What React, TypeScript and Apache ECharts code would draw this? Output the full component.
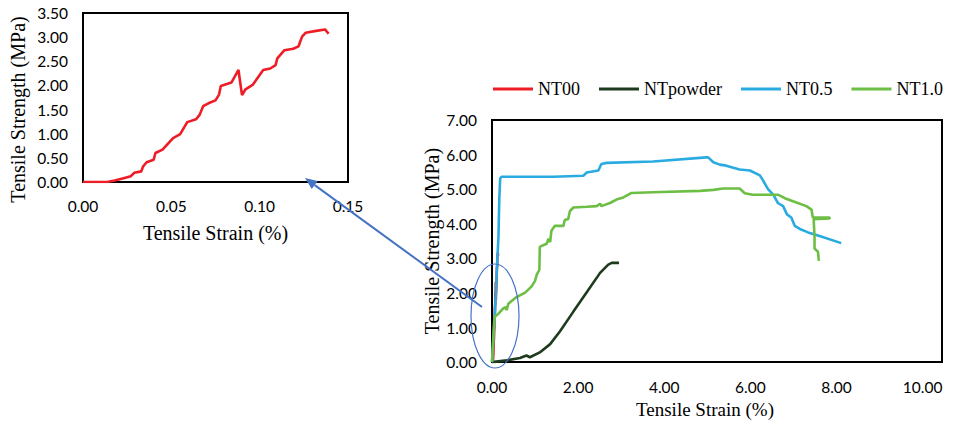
import React, { useEffect, useRef } from "react";
import * as echarts from "echarts";

// Strain (%) , tensile strength (MPa)
const nt00: [number, number][] = [
  [0, 0], [0.0136, 0], [0.018, 0.03], [0.023, 0.08], [0.027, 0.12], [0.029, 0.19],
  [0.033, 0.22], [0.034, 0.32], [0.036, 0.41], [0.040, 0.46], [0.041, 0.60],
  [0.045, 0.67], [0.051, 0.91], [0.055, 0.99], [0.059, 1.24], [0.064, 1.30],
  [0.066, 1.39], [0.068, 1.57], [0.071, 1.63], [0.075, 1.69], [0.077, 1.81],
  [0.078, 1.99], [0.084, 2.06], [0.088, 2.32], [0.090, 1.80], [0.092, 1.92],
  [0.096, 2.01], [0.102, 2.32], [0.106, 2.35], [0.109, 2.42], [0.110, 2.56],
  [0.114, 2.73], [0.119, 2.76], [0.122, 2.81], [0.124, 3.01], [0.126, 3.09],
  [0.132, 3.13], [0.137, 3.16], [0.139, 3.07],
];

const ntPowder: [number, number][] = [
  [0, 0], [0.34, 0.05], [0.65, 0.12], [0.80, 0.19], [0.88, 0.14], [1.11, 0.28],
  [1.35, 0.52], [1.58, 0.89], [1.89, 1.46], [2.20, 2.02], [2.51, 2.58],
  [2.70, 2.82], [2.78, 2.87], [2.95, 2.87],
];

const nt05: [number, number][] = [
  [0, 0], [0.07, 1.45], [0.12, 2.87], [0.15, 3.62], [0.17, 4.74], [0.19, 5.31],
  [0.22, 5.36], [1.42, 5.36], [2.12, 5.39], [2.20, 5.48], [2.47, 5.54],
  [2.54, 5.73], [2.66, 5.76], [3.74, 5.80], [4.98, 5.92], [5.02, 5.92],
  [5.14, 5.78], [5.29, 5.71], [5.44, 5.68], [5.75, 5.57], [5.99, 5.54],
  [6.22, 5.40], [6.29, 5.26], [6.41, 5.00], [6.53, 4.84], [6.64, 4.60],
  [6.76, 4.51], [6.85, 4.27], [6.95, 4.18], [7.03, 3.94], [7.15, 3.85],
  [7.34, 3.75], [7.57, 3.66], [8.11, 3.44],
];

const nt10: [number, number][] = [
  [0, 0], [0.05, 1.17], [0.07, 1.32], [0.15, 1.40], [0.26, 1.55], [0.32, 1.59],
  [0.34, 1.50], [0.38, 1.69], [0.57, 1.88], [0.77, 2.01], [0.92, 2.19],
  [1.00, 2.35], [1.04, 2.53], [1.10, 2.67], [1.11, 3.33], [1.19, 3.38],
  [1.27, 3.42], [1.31, 3.57], [1.35, 3.47], [1.38, 3.80], [1.46, 3.94],
  [1.66, 3.94], [1.69, 4.11], [1.77, 4.14], [1.81, 4.37], [1.89, 4.47],
  [2.20, 4.49], [2.43, 4.51], [2.51, 4.58], [2.54, 4.51], [2.74, 4.60],
  [2.89, 4.70], [3.05, 4.76], [3.24, 4.89], [3.74, 4.91], [4.83, 4.95],
  [5.14, 4.98], [5.37, 5.02], [5.75, 5.02], [5.87, 4.88], [6.06, 4.84],
  [6.64, 4.84], [6.80, 4.74], [6.99, 4.65], [7.30, 4.51], [7.42, 4.41],
  [7.45, 4.18], [7.84, 4.18], [7.84, 4.15], [7.47, 4.13], [7.49, 3.61],
  [7.49, 3.28], [7.57, 3.19], [7.59, 2.93],
];

const seriesNames = ["NT00", "NTpowder", "NT0.5", "NT1.0"];
const seriesColors = ["#EE1C25", "#1F3B1F", "#29ABE2", "#6DBE45"];

const tickFont = "Lato, 'Open Sans', sans-serif";
const titleFont = "'Liberation Serif', 'Times New Roman', serif";

export default function App() {
  const ref = useRef<HTMLDivElement>(null);

  useEffect(() => {
    if (!ref.current) return;
    const chart = echarts.init(ref.current, undefined, { renderer: "svg" });

    const arrowStart = [482, 307];
    const tip = [305, 178];
    const dx = tip[0] - arrowStart[0];
    const dy = tip[1] - arrowStart[1];
    const len = Math.sqrt(dx * dx + dy * dy);
    const ux = dx / len, uy = dy / len;
    const base = [tip[0] - 12 * ux, tip[1] - 12 * uy];
    const px = -uy * 5, py = ux * 5;

    const axisLabel = (dec: number) => ({
      color: "#000",
      fontFamily: tickFont,
      fontSize: 15.5,
      formatter: (v: number) => v.toFixed(dec),
    });

    const lineSeries = (name: string, data: [number, number][], idx: number, axis: number) => ({
      type: "line",
      name,
      data,
      xAxisIndex: axis,
      yAxisIndex: axis,
      showSymbol: false,
      symbol: "none",
      lineStyle: { color: seriesColors[idx], width: 2.6 },
      itemStyle: { color: seriesColors[idx] },
      z: 3 + idx,
    });

    chart.setOption({
      animation: false,
      backgroundColor: "#fff",
      legend: {
        data: seriesNames,
        left: 493,
        top: 80,
        padding: 0,
        icon: "rect",
        itemWidth: 40,
        itemHeight: 3,
        itemGap: 19,
        itemStyle: { borderWidth: 0 },
        textStyle: { fontFamily: titleFont, fontSize: 18, color: "#000" },
      },
      grid: [
        { left: 83, top: 13, width: 265, height: 169, show: true, borderColor: "#000", borderWidth: 2, backgroundColor: "transparent" },
        { left: 492, top: 120, width: 450, height: 248, show: true, borderColor: "#000", borderWidth: 2, backgroundColor: "transparent" },
      ],
      xAxis: [
        {
          type: "value", gridIndex: 0, min: 0, max: 0.15, interval: 0.05,
          axisLine: { show: false }, axisTick: { show: false }, splitLine: { show: false },
          axisLabel: { ...axisLabel(2), margin: 16 },
          name: "Tensile Strain (%)", nameLocation: "middle", nameGap: 41,
          nameTextStyle: { fontFamily: titleFont, fontSize: 20, color: "#000" },
        },
        {
          type: "value", gridIndex: 1, min: 0, max: 10.45, interval: 2,
          axisLine: { show: false }, axisTick: { show: false }, splitLine: { show: false },
          axisLabel: { ...axisLabel(2), margin: 17, showMaxLabel: false },
          name: "Tensile Strain (%)", nameLocation: "middle", nameGap: 37,
          nameTextStyle: { fontFamily: titleFont, fontSize: 19, color: "#000", padding: [0, 24, 0, 0] },
        },
      ],
      yAxis: [
        {
          type: "value", gridIndex: 0, min: 0, max: 3.5, interval: 0.5,
          axisLine: { show: false }, axisTick: { show: false }, splitLine: { show: false },
          axisLabel: { ...axisLabel(2), margin: 15 },
          name: "Tensile Strength (MPa)", nameLocation: "middle", nameGap: 55,
          nameTextStyle: { fontFamily: titleFont, fontSize: 20, color: "#000", padding: [0, 24, 0, 0] },
        },
        {
          type: "value", gridIndex: 1, min: 0, max: 7, interval: 1,
          axisLine: { show: false }, axisTick: { show: false }, splitLine: { show: false },
          axisLabel: { ...axisLabel(2), margin: 15 },
          name: "Tensile Strength (MPa)", nameLocation: "middle", nameGap: 49,
          nameTextStyle: { fontFamily: titleFont, fontSize: 20, color: "#000" },
        },
      ],
      series: [
        lineSeries("NT00", nt00, 0, 0),
        lineSeries("NT00", nt00, 0, 1),
        lineSeries("NTpowder", ntPowder, 1, 1),
        lineSeries("NT0.5", nt05, 2, 1),
        lineSeries("NT1.0", nt10, 3, 1),
      ],
      graphic: [
        {
          type: "ellipse",
          shape: { cx: 495, cy: 316, rx: 24, ry: 52 },
          style: { fill: "none", stroke: "#4472C4", lineWidth: 1.2 },
          z: 100,
        },
        {
          type: "line",
          shape: { x1: arrowStart[0], y1: arrowStart[1], x2: base[0], y2: base[1] },
          style: { stroke: "#4472C4", lineWidth: 2 },
          z: 100,
        },
        {
          type: "polygon",
          shape: { points: [[tip[0], tip[1]], [base[0] + px, base[1] + py], [base[0] - px, base[1] - py]] },
          style: { fill: "#4472C4" },
          z: 100,
        },
      ],
    });

    return () => chart.dispose();
  }, []);

  return (
    <div
      ref={ref}
      style={{ position: "fixed", left: 0, top: 0, width: 964, height: 424 }}
    />
  );
}
